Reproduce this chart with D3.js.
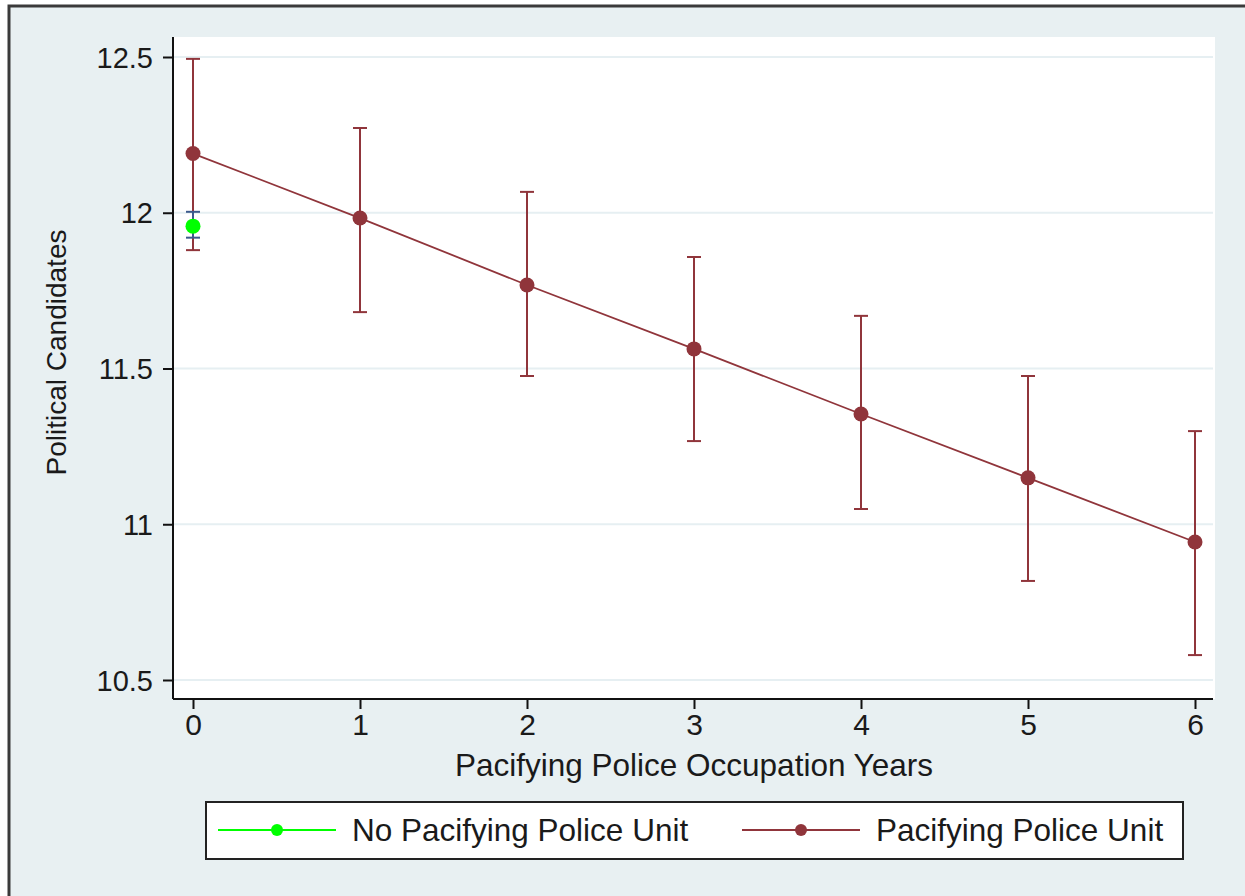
<!DOCTYPE html>
<html>
<head>
<meta charset="utf-8">
<script src="https://cdn.jsdelivr.net/npm/d3@7"></script>
<style>
  body { margin: 0; background: #fff; }
  text { font-family: "Liberation Sans", Arial, sans-serif; fill: #1a1a1a; }
</style>
</head>
<body>
<div id="container"></div>
<script>
//---------- DATA ----------//
const years = [0, 1, 2, 3, 4, 5, 6];
const upuMean = [12.19, 11.983, 11.768, 11.563, 11.354, 11.149, 10.943];
const upuLow  = [11.88, 11.681, 11.476, 11.267, 11.049, 10.818, 10.580];
const upuHigh = [12.494, 12.272, 12.067, 11.858, 11.669, 11.476, 11.299];
const noUpu = { year: 0, mean: 11.957, low: 11.92, high: 12.003 };
const yTicks = [10.5, 11, 11.5, 12, 12.5];
const seriesNames = ["No Pacifying Police Unit", "Pacifying Police Unit"];

//---------- SVG ----------//
const width = 1245, height = 896;
const plot = { left: 173, right: 1215, top: 37, bottom: 699 };
const red = "#90353b", green = "#00ff00";

const svg = d3.select("#container").append("svg")
    .attr("width", width)
    .attr("height", height);

// outer frame
svg.append("rect").attr("width", width).attr("height", height).attr("fill", "#ffffff");
svg.append("rect")
    .attr("x", 9).attr("y", 6)
    .attr("width", width + 20).attr("height", height + 20)
    .attr("fill", "#e8f0f2")
    .attr("stroke", "#3a3a3a").attr("stroke-width", 3);

// plot region
svg.append("rect")
    .attr("x", plot.left).attr("y", plot.top)
    .attr("width", plot.right - plot.left).attr("height", plot.bottom - plot.top)
    .attr("fill", "#ffffff");

//---------- SCALES ----------//
const x = d3.scaleLinear().domain([0, 6]).range([193, 1195]);
const y = d3.scaleLinear().domain([10.5, 12.5]).range([680, 57]);

// gridlines
svg.append("g").selectAll("line")
    .data(yTicks)
    .join("line")
    .attr("x1", plot.left).attr("x2", plot.right - 2)
    .attr("y1", d => y(d)).attr("y2", d => y(d))
    .attr("stroke", "#e6eff2").attr("stroke-width", 2);

//---------- AXES ----------//
const yAxis = svg.append("g")
    .attr("transform", `translate(${plot.left},0)`)
    .call(d3.axisLeft(y).tickValues(yTicks).tickSize(10).tickPadding(10)
        .tickFormat(d => d3.format("")(d)));
yAxis.select(".domain").attr("d", `M0,${plot.top}V${plot.bottom}`).attr("stroke", "#111").attr("stroke-width", 2);
yAxis.selectAll(".tick line").attr("stroke", "#111").attr("stroke-width", 2);
yAxis.selectAll(".tick text").attr("font-size", 29).attr("dy", "0.35em");

const xAxis = svg.append("g")
    .attr("transform", `translate(0,${plot.bottom})`)
    .call(d3.axisBottom(x).tickValues(years).tickSize(10).tickPadding(5).tickFormat(d3.format("d")));
xAxis.select(".domain").attr("d", `M${plot.left},0H${plot.right - 2}`).attr("stroke", "#111").attr("stroke-width", 2);
xAxis.selectAll(".tick line").attr("stroke", "#111").attr("stroke-width", 2);
xAxis.selectAll(".tick text").attr("font-size", 30);

// axis titles
svg.append("text")
    .attr("x", (plot.left + plot.right) / 2).attr("y", 776)
    .attr("text-anchor", "middle").attr("font-size", 31.5)
    .text("Pacifying Police Occupation Years");
svg.append("text")
    .attr("transform", `translate(66,${y(11.5) - 16}) rotate(-90)`)
    .attr("text-anchor", "middle").attr("font-size", 28)
    .text("Political Candidates");

//---------- SERIES ----------//
const capW = 7;
const pts = years.map((d, i) => ({ x: d, m: upuMean[i], lo: upuLow[i], hi: upuHigh[i] }));

function errorBars(data, color) {
    const g = svg.append("g").attr("stroke", color).attr("stroke-width", 2);
    g.selectAll(".v").data(data).join("line")
        .attr("x1", d => x(d.x)).attr("x2", d => x(d.x))
        .attr("y1", d => y(d.lo)).attr("y2", d => y(d.hi));
    g.selectAll(".lo").data(data).join("line").attr("class", "lo")
        .attr("x1", d => x(d.x) - capW).attr("x2", d => x(d.x) + capW)
        .attr("y1", d => y(d.lo)).attr("y2", d => y(d.lo));
    g.selectAll(".hi").data(data).join("line").attr("class", "hi")
        .attr("x1", d => x(d.x) - capW).attr("x2", d => x(d.x) + capW)
        .attr("y1", d => y(d.hi)).attr("y2", d => y(d.hi));
}

errorBars(pts, red);

svg.append("path")
    .datum(pts)
    .attr("fill", "none").attr("stroke", red).attr("stroke-width", 1.8)
    .attr("d", d3.line().x(d => x(d.x)).y(d => y(d.m)));

svg.append("g").selectAll("circle").data(pts).join("circle")
    .attr("cx", d => x(d.x)).attr("cy", d => y(d.m)).attr("r", 7.5)
    .attr("fill", red);

const greenPts = [{ x: noUpu.year, m: noUpu.mean, lo: noUpu.low, hi: noUpu.high }];
errorBars(greenPts, "#3c5a8c");
svg.append("g").selectAll("circle").data(greenPts).join("circle")
    .attr("cx", d => x(d.x)).attr("cy", d => y(d.m)).attr("r", 7.5)
    .attr("fill", green);

//---------- LEGEND ----------//
const legend = svg.append("g");
legend.append("rect")
    .attr("x", 206).attr("y", 802).attr("width", 977).attr("height", 57)
    .attr("fill", "#fff").attr("stroke", "#222").attr("stroke-width", 2);

const legendItems = [
    { name: seriesNames[0], color: green, x0: 218 },
    { name: seriesNames[1], color: red, x0: 742 }
];
const li = legend.selectAll(".item").data(legendItems).join("g")
    .attr("transform", d => `translate(${d.x0},830)`);
li.append("line").attr("x1", 0).attr("x2", 118)
    .attr("stroke", d => d.color).attr("stroke-width", 2);
li.append("circle").attr("cx", 59).attr("r", 6).attr("fill", d => d.color);
li.append("text").attr("x", 134).attr("dy", "0.35em").attr("font-size", 31.5)
    .text(d => d.name);
</script>
</body>
</html>
